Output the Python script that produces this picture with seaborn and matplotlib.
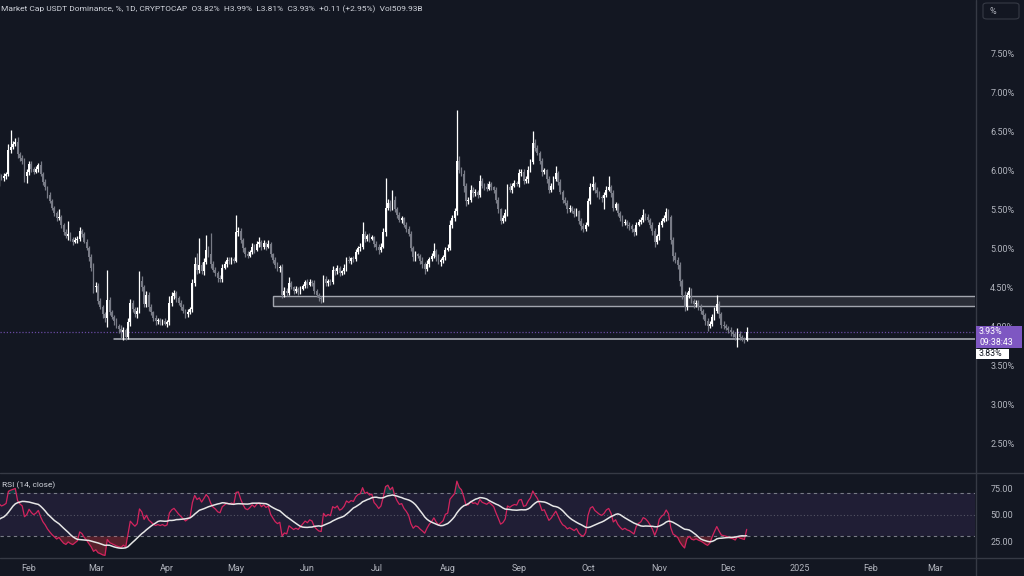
import numpy as np
import pandas as pd
import matplotlib
matplotlib.use('Agg')
import matplotlib.pyplot as plt
import matplotlib.dates as mdates
from matplotlib.patches import Rectangle, FancyBboxPatch
from matplotlib.lines import Line2D
from matplotlib.ticker import FuncFormatter
import seaborn as sns

# daily closes in %, 2024-01-19 .. 2024-12-09
closes = [
    5.93, 5.90, 5.92, 5.95, 6.26, 6.30, 6.33, 6.36, 6.20, 6.15,
    6.12, 5.93, 5.97, 6.08, 6.02, 5.98, 6.01, 6.06, 5.95, 5.85,
    5.78, 5.68, 5.60, 5.52, 5.45, 5.38, 5.40, 5.30, 5.20, 5.15,
    5.18, 5.12, 5.08, 5.10, 5.12, 5.22, 5.18, 5.08, 5.00, 4.88,
    4.75, 4.50, 4.52, 4.32, 4.25, 4.15, 4.10, 4.33, 4.18, 4.12,
    4.06, 4.00, 3.96, 3.92, 3.95, 3.86, 4.05, 4.30, 4.22, 4.15,
    4.20, 4.58, 4.50, 4.28, 4.40, 4.25, 4.18, 4.10, 4.06, 4.08,
    4.05, 4.07, 4.03, 4.05, 4.30, 4.38, 4.42, 4.36, 4.30, 4.25,
    4.20, 4.15, 4.18, 4.22, 4.55, 4.80, 4.72, 4.78, 4.70, 4.82,
    4.97, 4.92, 4.80, 4.72, 4.68, 4.62, 4.60, 4.75, 4.80, 4.85,
    4.83, 4.86, 4.84, 5.20, 5.22, 5.10, 5.00, 4.92, 4.90, 4.95,
    5.02, 4.98, 5.05, 5.08, 5.02, 5.06, 5.02, 5.05, 4.92, 4.85,
    4.78, 4.74, 4.76, 4.40, 4.45, 4.42, 4.55, 4.50, 4.45, 4.47,
    4.44, 4.48, 4.52, 4.56, 4.53, 4.57, 4.55, 4.45, 4.40, 4.36,
    4.35, 4.60, 4.55, 4.58, 4.56, 4.72, 4.70, 4.74, 4.68, 4.70,
    4.75, 4.85, 4.83, 4.87, 4.86, 4.95, 5.00, 5.02, 5.18, 5.12,
    5.15, 5.12, 5.14, 5.05, 5.02, 4.98, 5.02, 5.20, 5.52, 5.58,
    5.52, 5.62, 5.50, 5.42, 5.36, 5.38, 5.30, 5.25, 5.18, 5.00,
    4.88, 4.92, 4.90, 4.84, 4.79, 4.73, 4.80, 4.86, 4.90, 4.96,
    4.88, 4.82, 4.85, 4.88, 4.98, 5.00, 5.30, 5.38, 5.47, 6.12,
    6.00, 5.95, 5.80, 5.60, 5.62, 5.75, 5.70, 5.72, 5.68, 5.86,
    5.80, 5.78, 5.76, 5.82, 5.78, 5.74, 5.62, 5.50, 5.35, 5.38,
    5.45, 5.78, 5.75, 5.80, 5.83, 5.82, 5.96, 5.98, 5.86, 5.88,
    6.00, 6.10, 6.35, 6.28, 6.22, 6.12, 5.98, 6.00, 5.88, 5.75,
    5.80, 5.88, 5.96, 5.85, 5.72, 5.62, 5.58, 5.50, 5.52, 5.48,
    5.44, 5.47, 5.35, 5.28, 5.25, 5.30, 5.60, 5.78, 5.82, 5.74,
    5.70, 5.66, 5.64, 5.68, 5.75, 5.78, 5.70, 5.52, 5.56, 5.45,
    5.38, 5.32, 5.34, 5.30, 5.28, 5.24, 5.20, 5.30, 5.34, 5.36,
    5.42, 5.40, 5.36, 5.30, 5.22, 5.08, 5.15, 5.30, 5.35, 5.38,
    5.46, 5.40, 5.10, 4.90, 4.85, 4.78, 4.58, 4.40, 4.24, 4.40,
    4.45, 4.32, 4.28, 4.30, 4.24, 4.20, 4.14, 4.06, 4.00, 4.03,
    4.12, 4.20, 4.28, 4.15, 4.02, 4.00, 3.98, 3.95, 3.92, 3.90,
    3.86, 3.90, 3.86, 3.84, 3.82, 3.93,
]
# wick above / below the body, in hundredths of a percent
wick_up = [
    3, 2, 4, 3, 8, 21, 4, 5, 6, 3,
    4, 3, 5, 4, 3, 2, 4, 3, 5, 2,
    3, 2, 4, 3, 2, 3, 10, 3, 2, 4,
    17, 3, 2, 4, 3, 5, 3, 2, 4, 3,
    4, 6, 5, 3, 4, 2, 3, 39, 4, 3,
    2, 4, 3, 5, 4, 3, 6, 5, 4, 3,
    4, 12, 6, 3, 5, 4, 3, 2, 4, 3,
    3, 2, 4, 3, 8, 6, 4, 3, 2, 4,
    3, 2, 4, 3, 6, 8, 14, 35, 4, 5,
    20, 6, 27, 3, 4, 2, 3, 5, 4, 3,
    4, 3, 2, 22, 5, 4, 3, 2, 4, 3,
    5, 3, 4, 6, 3, 4, 2, 5, 3, 2,
    3, 4, 2, 3, 5, 4, 8, 3, 2, 4,
    3, 4, 2, 3, 4, 3, 2, 4, 3, 2,
    3, 6, 4, 3, 2, 5, 3, 4, 3, 2,
    4, 3, 5, 2, 3, 4, 3, 5, 15, 4,
    3, 4, 3, 2, 4, 3, 4, 6, 38, 5,
    4, 13, 5, 3, 4, 3, 2, 4, 3, 4,
    3, 4, 2, 3, 4, 3, 5, 3, 4, 10,
    3, 4, 2, 3, 4, 5, 6, 4, 5, 65,
    6, 4, 5, 3, 4, 6, 3, 4, 3, 8,
    4, 3, 5, 4, 3, 2, 4, 3, 2, 4,
    5, 4, 6, 3, 4, 3, 5, 4, 3, 4,
    5, 4, 15, 5, 4, 3, 4, 3, 2, 4,
    3, 5, 9, 3, 4, 2, 3, 4, 3, 2,
    3, 4, 2, 3, 4, 3, 4, 5, 10, 3,
    4, 3, 2, 4, 5, 15, 3, 4, 3, 2,
    3, 4, 3, 2, 4, 3, 2, 4, 3, 4,
    8, 3, 4, 2, 3, 4, 3, 4, 3, 5,
    6, 4, 3, 4, 5, 3, 4, 3, 5, 4,
    5, 4, 3, 4, 3, 4, 2, 3, 4, 3,
    4, 5, 12, 4, 3, 4, 3, 2, 4, 3,
    3, 8, 4, 3, 2, 6,
]
wick_dn = [
    12, 3, 4, 3, 2, 4, 3, 2, 5, 3,
    4, 8, 10, 3, 4, 3, 2, 4, 3, 4,
    3, 4, 2, 3, 4, 3, 2, 4, 3, 2,
    4, 3, 4, 2, 3, 3, 4, 2, 3, 4,
    5, 8, 6, 4, 3, 4, 5, 11, 4, 3,
    4, 3, 5, 9, 10, 4, 3, 5, 4, 3,
    4, 3, 5, 4, 3, 5, 4, 3, 4, 3,
    4, 3, 2, 4, 3, 4, 3, 5, 3, 4,
    3, 4, 3, 2, 4, 3, 5, 4, 3, 4,
    3, 4, 5, 3, 4, 5, 4, 3, 2, 4,
    3, 4, 3, 2, 4, 3, 5, 4, 3, 2,
    3, 4, 2, 3, 4, 3, 4, 2, 3, 4,
    3, 4, 5, 4, 3, 4, 2, 3, 4, 3,
    4, 3, 2, 3, 4, 2, 3, 4, 3, 4,
    5, 4, 3, 4, 3, 2, 4, 3, 4, 3,
    3, 4, 2, 3, 4, 3, 2, 4, 3, 4,
    3, 4, 2, 3, 4, 5, 3, 2, 4, 3,
    4, 3, 4, 3, 2, 4, 3, 4, 3, 4,
    5, 4, 3, 4, 5, 6, 3, 4, 2, 3,
    4, 3, 5, 4, 3, 2, 3, 4, 3, 5,
    4, 3, 8, 6, 4, 3, 4, 3, 4, 3,
    3, 4, 3, 2, 4, 3, 4, 5, 4, 3,
    3, 4, 3, 4, 2, 3, 4, 3, 4, 3,
    4, 3, 2, 4, 3, 4, 5, 3, 4, 5,
    3, 4, 2, 4, 3, 4, 3, 5, 4, 3,
    4, 3, 4, 5, 4, 3, 2, 3, 4, 3,
    4, 3, 5, 14, 3, 2, 4, 5, 3, 4,
    3, 4, 3, 4, 5, 3, 4, 3, 2, 3,
    3, 4, 3, 4, 5, 6, 3, 4, 3, 2,
    3, 4, 5, 6, 4, 5, 6, 5, 4, 3,
    4, 3, 5, 4, 3, 4, 5, 4, 6, 3,
    3, 4, 3, 4, 5, 4, 3, 4, 5, 4,
    4, 13, 4, 3, 4, 1,
]
# closes before the visible range (off screen), only to warm up the RSI
warmup_closes = [5.72, 5.68, 5.62, 5.64, 5.60, 5.58, 5.66, 5.58, 5.62, 5.68,
                 5.66, 5.62, 5.55, 5.50, 5.78, 5.68, 5.70, 5.68, 5.74, 5.52,
                 5.55, 5.45, 5.42, 5.62, 5.68, 5.74, 5.72, 5.70, 5.78, 5.92]

first_day = '2024-01-19'
price_ticks = [2.5, 3.0, 3.5, 4.0, 4.5, 5.0, 5.5, 6.0, 6.5, 7.0, 7.5]
rsi_ticks = [25, 50, 75]
support_level = 3.83
support_start = '2024-03-09'
zone_lo, zone_hi = 4.26, 4.385
zone_start = '2024-05-17'
last_price = 3.93
countdown = '09:38:43'
title = ('Market Cap USDT Dominance, %, 1D, CRYPTOCAP  O3.82%  H3.99%  '
         'L3.81%  C3.93%  +0.11 (+2.95%)  Vol509.93B')

assert len(closes) == len(wick_up) == len(wick_dn)

BG = '#131722'
TXT = '#b2b5be'
GRID = '#363a45'
UP = '#ffffff'
DOWN = '#787b86'
PURPLE = '#7e57c2'

sns.set_theme(style='dark', rc={'axes.facecolor': BG, 'figure.facecolor': BG,
                                'savefig.facecolor': BG})
plt.rcParams['font.family'] = ['Roboto', 'DejaVu Sans']

dates = pd.date_range(first_day, periods=len(closes), freq='D')
xn = mdates.date2num(dates)
c = np.array(closes)
o = np.array([warmup_closes[-1]] + closes[:-1])
hi = np.maximum(o, c) + np.array(wick_up) / 100
lo = np.minimum(o, c) - np.array(wick_dn) / 100
cols = np.where(c >= o, UP, DOWN)

# RSI(14) with Wilder smoothing + SMA(14)
allc = pd.Series(warmup_closes + closes)
d = allc.diff()
gain = d.clip(lower=0).ewm(alpha=1 / 14, adjust=False).mean()
loss = (-d.clip(upper=0)).ewm(alpha=1 / 14, adjust=False).mean()
rsi_all = 100 - 100 / (1 + gain / loss)
ma_all = rsi_all.rolling(14).mean()
n = len(closes)
rsi_df = pd.DataFrame({'date': dates, 'rsi': rsi_all.values[-n:],
                       'ma': ma_all.values[-n:]})

fig = plt.figure(figsize=(10.24, 5.76), dpi=100)
W, H = 1024, 576
ax = fig.add_axes([0, 1 - 472 / H, 975 / W, 472 / H])
ax2 = fig.add_axes([0, 1 - 558 / H, 975 / W, 84 / H])

x_left = mdates.date2num(pd.Timestamp(first_day)) + 0.35
x_right = x_left + 975 / 2.3

# candles
ax.vlines(xn, lo, hi, colors=cols, linewidth=0.9, zorder=3)
ax.bar(xn, np.maximum(np.abs(c - o), 0.014), bottom=np.minimum(o, c),
       width=0.8, color=cols, linewidth=0, zorder=4)

# drawings
zs = mdates.date2num(pd.Timestamp(zone_start))
ax.add_patch(Rectangle((zs, zone_lo), x_right + 5 - zs, zone_hi - zone_lo,
                       facecolor='#2a2d37', edgecolor='#a3a6af', lw=1.0, zorder=2))
ss = mdates.date2num(pd.Timestamp(support_start))
ax.plot([ss, x_right + 5], [support_level, support_level], color='#b2b5be',
        lw=1.1, zorder=2)
ax.axhline(last_price, color=PURPLE, lw=0.9, ls=(0, (1, 1.5)), alpha=0.8, zorder=1)

ax.set_xlim(x_left, x_right)
ax.set_ylim(2.13, 8.18)
ax.set_xticks([])
ax.yaxis.tick_right()
ax.set_yticks(price_ticks)
ax.yaxis.set_major_formatter(FuncFormatter(lambda v, p: f'{v:.2f}%'))
ax.tick_params(axis='y', length=0, pad=11, labelsize=6.5, labelcolor=TXT)
for s in ax.spines.values():
    s.set_visible(False)
ax.grid(False)

# RSI pane
ax2.axhspan(30, 70, color=PURPLE, alpha=0.12, lw=0, zorder=0)
ax2.axhline(70, color='#787b86', lw=0.8, ls=(0, (3, 3)), zorder=1)
ax2.axhline(50, color='#787b86', lw=0.8, ls=(0, (1, 2)), alpha=0.6, zorder=1)
ax2.axhline(30, color='#787b86', lw=0.8, ls=(0, (3, 3)), zorder=1)
r = rsi_df['rsi'].values
ax2.fill_between(xn, r, 30, where=r < 30, interpolate=True, color='#f23645',
                 alpha=0.3, lw=0, zorder=1)
ax2.fill_between(xn, r, 70, where=r > 70, interpolate=True, color='#089981',
                 alpha=0.3, lw=0, zorder=1)
sns.lineplot(data=rsi_df, x='date', y='rsi', ax=ax2, color='#d3245e', lw=0.9,
             zorder=3)
sns.lineplot(data=rsi_df, x='date', y='ma', ax=ax2, color='#e6e6e6', lw=1.1,
             zorder=4)
ax2.set_xlim(x_left, x_right)
ax2.set_ylim(10, 88)
ax2.set_xlabel('')
ax2.set_ylabel('')
ax2.yaxis.tick_right()
ax2.set_yticks(rsi_ticks)
ax2.yaxis.set_major_formatter(FuncFormatter(lambda v, p: f'{v:.2f}'))
ax2.tick_params(axis='y', length=0, pad=11, labelsize=6.5, labelcolor=TXT)
ax2.xaxis.set_major_locator(mdates.MonthLocator())
ax2.xaxis.set_major_formatter(FuncFormatter(
    lambda v, p: str(mdates.num2date(v).year) if mdates.num2date(v).month == 1
    else mdates.num2date(v).strftime('%b')))
ax2.tick_params(axis='x', length=0, pad=4, labelsize=6.5, labelcolor=TXT)
for s in ax2.spines.values():
    s.set_visible(False)
ax2.grid(False)


def fx(px):
    return px / W


def fy(py):
    return 1 - py / H


# pane separators
for yy in (473, 558):
    fig.add_artist(Line2D([0, 1], [fy(yy), fy(yy)], color=GRID, lw=1))
fig.add_artist(Line2D([fx(975.5), fx(975.5)], [0, 1], color=GRID, lw=1))

# texts
fig.text(fx(1), fy(9), title, fontsize=6.0, color='#d1d4dc', va='center', ha='left')
fig.text(fx(2), fy(485), 'RSI (14, close)', fontsize=6.0, color='#d1d4dc',
         va='center', ha='left')

# scale button
fig.add_artist(FancyBboxPatch((fx(983), fy(19)), fx(36), 16 / H,
                              boxstyle='round,pad=0,rounding_size=0.004',
                              facecolor=BG, edgecolor=GRID, lw=0.8))
fig.text(fx(990), fy(11), '%', fontsize=6.5, color=TXT, va='center', ha='left')

# price labels
fig.add_artist(Rectangle((fx(976), fy(348)), fx(46), 22 / H, facecolor=PURPLE,
                         edgecolor='none', zorder=5))
fig.text(fx(979), fy(331.5), f'{last_price:.2f}%', fontsize=6.3, color='white',
         va='center', ha='left', zorder=6)
fig.text(fx(979), fy(342.5), countdown, fontsize=6.3, color='white',
         va='center', ha='left', zorder=6)
fig.add_artist(Rectangle((fx(976), fy(359)), fx(33), 10 / H, facecolor='white',
                         edgecolor='none', zorder=5))
fig.text(fx(979), fy(354), f'{support_level:.2f}%', fontsize=6.3, color=BG,
         va='center', ha='left', zorder=6)

fig.savefig('out.png', dpi=100, facecolor=BG)
